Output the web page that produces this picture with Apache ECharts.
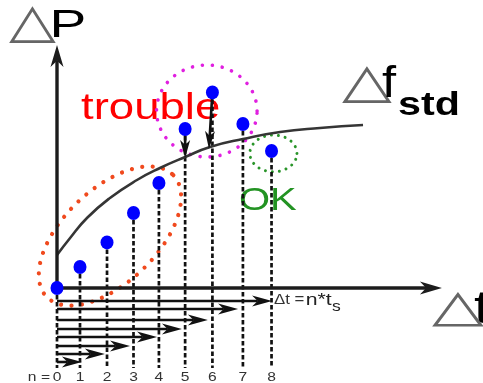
<!DOCTYPE html>
<html><head><meta charset="utf-8">
<script src="https://cdn.jsdelivr.net/npm/echarts@6/dist/echarts.min.js"></script>
<style>html,body{margin:0;padding:0;background:#fff}#c{width:483px;height:383px}</style>
</head><body><div id="c"></div>
<script>
// ---- data ----
// sample index labels
const nLabels = ['0', '1', '2', '3', '4', '5', '6', '7', '8'];
// sample instants along the Δt axis (in units of ts, as drawn)
const sampleT = [0, 0.86, 1.87, 2.86, 3.81, 4.79, 5.81, 6.95, 8.02];
// ΔP of each sample
const sampleP = [0, 1.05, 2.28, 3.75, 5.25, 7.95, 9.78, 8.2, 6.85];
// Δf_std limit curve
const curveT = [0, 0.49, 1.12, 1.98, 2.99, 3.85, 4.79, 5.72, 6.95, 8.34, 9.83, 11.44];
const curveP = [1.65, 2.5, 3.5, 4.5, 5.4, 6.0, 6.55, 7.05, 7.45, 7.8, 8.0, 8.15];
// Δt = n*ts arrows: end of each arrow and its level below the axis
const spanEnd = [0.93, 1.79, 2.73, 3.74, 4.67, 5.64, 6.77, 8.04];
const spanLevel = [-3.7, -3.3, -2.9, -2.45, -2.05, -1.6, -1.05, -0.65];
// drop arrows from the "trouble" samples onto the curve
const dropFrom = [5, 6];
const dropToT = [4.79, 5.68];
const dropToP = [6.5, 6.95];
// axis extents
const axisTEnd = 14.39;
const axisPEnd = 12.15;
// grouping regions: centre, end of first half-axis, end of second half-axis
const regionLow = [[1.98, 2.6, 4.35, 5.64, 3.19, 0.91]];
const regionTrouble = [[5.6, 8.85, 7.48, 8.85, 5.6, 11.15]];
const regionOk = [[8.09, 6.73, 8.97, 6.73, 8.09, 7.65]];

// ---- rendering ----
const chart = echarts.init(document.getElementById('c'), null, {renderer: 'canvas'});
const SANS = '"Liberation Sans", Arial, sans-serif';
const TRI = '"DejaVu Sans", sans-serif';

function arrowSeries(name, data, o) {
  return {
    type: 'custom', name, z: o.z, silent: true, data,
    renderItem(params, api) {
      const p1 = api.coord([api.value(0), api.value(1)]);
      const p2 = api.coord([api.value(2), api.value(3)]);
      const dx = p2[0] - p1[0], dy = p2[1] - p1[1];
      const len = Math.hypot(dx, dy), ux = dx / len, uy = dy / len;
      const L = o.headLen, W = o.headW / 2;
      const bx = p2[0] - ux * L, by = p2[1] - uy * L;
      const nx = p2[0] - ux * L * 0.72, ny = p2[1] - uy * L * 0.72;
      const px = -uy, py = ux;
      return {type: 'group', children: [
        {type: 'line', shape: {x1: p1[0], y1: p1[1], x2: nx, y2: ny},
          style: {stroke: o.color, lineWidth: o.width}},
        {type: 'polygon', shape: {points: [[p2[0], p2[1]], [bx + px * W, by + py * W], [nx, ny], [bx - px * W, by - py * W]]},
          style: {fill: o.color}}
      ]};
    }
  };
}

function ellipseSeries(name, data, o) {
  return {
    type: 'custom', name, z: o.z, silent: true, data,
    renderItem(params, api) {
      const c = api.coord([api.value(0), api.value(1)]);
      const a = api.coord([api.value(2), api.value(3)]);
      const b = api.coord([api.value(4), api.value(5)]);
      const ax = a[0] - c[0], ay = a[1] - c[1], bx = b[0] - c[0], by = b[1] - c[1];
      const pts = [];
      const N = 120;
      for (let i = 0; i <= N; i++) {
        const th = i / N * 2 * Math.PI;
        pts.push([c[0] + Math.cos(th) * ax + Math.sin(th) * bx, c[1] + Math.cos(th) * ay + Math.sin(th) * by]);
      }
      return {type: 'polyline', shape: {points: pts},
        style: {stroke: o.color, lineWidth: o.dot, lineDash: [0.01, o.gap], lineCap: 'round', fill: null}};
    }
  };
}

const notes = [
  {text: '△', t: -1.79, p: 13.15, fill: '#666', size: 48, family: TRI, sx: 1.27},
  {text: 'P', t: -0.28, p: 13.05, fill: '#000', size: 38, family: SANS, sx: 1.45},
  {text: 'trouble', t: 0.9, p: 8.95, fill: '#ff0000', size: 37, family: SANS, sx: 1.23},
  {text: 'OK', t: 6.8, p: 4.33, fill: '#239323', size: 32, family: SANS, sx: 1.25},
  {text: '△', t: 10.65, p: 10.155, fill: '#666', size: 48, family: TRI, sx: 1.35},
  {text: 'f', t: 12.15, p: 10.15, fill: '#000', size: 44, family: SANS, sx: 1.15},
  {text: 'std', t: 12.75, p: 9.1, fill: '#000', size: 33, family: SANS, weight: 'bold', sx: 1.25},
  {text: '△', t: 14.02, p: -1.05, fill: '#666', size: 45, family: TRI, sx: 1.5},
  {text: 't', t: 15.59, p: -1.1, fill: '#000', size: 46, family: SANS, sx: 1.25},
  {text: 'Δt =', t: 8.11, p: -0.6, fill: '#333', size: 14, family: SANS, sx: 1.2},
  {text: 'n*t', t: 9.3, p: -0.6, fill: '#222', size: 17, family: SANS, sx: 1.25},
  {text: 's', t: 10.28, p: -0.95, fill: '#222', size: 14, family: SANS, sx: 1.25},
  {text: 'n = ', t: -0.1, p: -4.45, fill: '#333', size: 13, family: SANS, align: 'right', sx: 1.2}
];

const textSeries = {
  type: 'custom', name: 'notes', z: 1, silent: true,
  data: notes.map(n => [n.t, n.p]),
  renderItem(params, api) {
    const n = notes[params.dataIndex];
    const p = api.coord([api.value(0), api.value(1)]);
    return {type: 'text', x: p[0], y: p[1], scaleX: n.sx, scaleY: 1,
      style: {text: n.text, fill: n.fill, fontSize: n.size, fontFamily: n.family, fontWeight: n.weight || 'normal',
        align: n.align || 'left', verticalAlign: 'middle'}};
  }
};

const nLabelSeries = {
  type: 'custom', name: 'n', z: 1, silent: true,
  data: sampleT.map(t => [t, -4.45]),
  renderItem(params, api) {
    const p = api.coord([api.value(0), api.value(1)]);
    return {type: 'text', x: p[0], y: p[1], scaleX: 1.2, scaleY: 1,
      style: {text: nLabels[params.dataIndex], fill: '#333', fontSize: 13, fontFamily: SANS,
        align: 'center', verticalAlign: 'middle'}};
  }
};

const stemSeries = {
  type: 'custom', name: 'stems', z: 3, silent: true,
  data: sampleT.map((t, i) => [t, sampleP[i]]),
  renderItem(params, api) {
    const a = api.coord([api.value(0), api.value(1)]);
    const b = api.coord([api.value(0), -4.0]);
    return {type: 'line', shape: {x1: a[0], y1: a[1], x2: b[0], y2: b[1]},
      style: {stroke: '#111', lineWidth: 2.7, lineDash: [4.5, 2.5]}};
  }
};

const option = {
  animation: false,
  backgroundColor: '#fff',
  grid: {left: 0, right: 0, top: 0, bottom: 0, containLabel: false},
  xAxis: {type: 'value', min: -57 / 26.75, max: 426 / 26.75, show: false},
  yAxis: {type: 'value', min: -4.75, max: 14.4, show: false},
  series: [
    textSeries,
    nLabelSeries,
    ellipseSeries('low', regionLow, {color: '#f04a1e', dot: 4.2, gap: 10.5, z: 2}),
    ellipseSeries('trouble', regionTrouble, {color: '#e020e0', dot: 3.6, gap: 10, z: 2}),
    ellipseSeries('ok', regionOk, {color: '#2a952a', dot: 3, gap: 7, z: 2}),
    {type: 'line', name: 'Δf_std', z: 3, smooth: 0.5, showSymbol: false, silent: true,
      data: curveT.map((t, i) => [t, curveP[i]]),
      lineStyle: {color: '#353535', width: 2.6}},
    stemSeries,
    arrowSeries('spans', spanLevel.map((lv, i) => [0, lv, spanEnd[i], lv]),
      {color: '#111', width: 2.6, headLen: 20, headW: 11, z: 4}),
    arrowSeries('drops', dropFrom.map((k, i) => [sampleT[k], sampleP[k], dropToT[i], dropToP[i]]),
      {color: '#111', width: 2.6, headLen: 18, headW: 10, z: 4}),
    arrowSeries('axes', [[-0.08, 0, axisTEnd, 0], [0, -0.1, 0, axisPEnd]],
      {color: '#1c1c1c', width: 3.4, headLen: 22, headW: 13, z: 5}),
    {type: 'scatter', name: 'samples', z: 6, silent: true, symbolSize: [13, 14],
      data: sampleT.map((t, i) => [t, sampleP[i]]),
      itemStyle: {color: '#0000ff', opacity: 1}}
  ]
};
chart.setOption(option);
</script>
</body></html>
